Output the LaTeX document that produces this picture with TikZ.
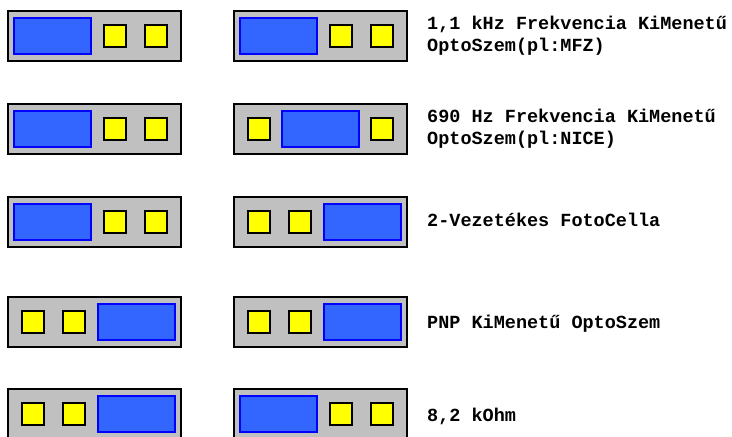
\documentclass[tikz,border=0pt]{standalone}
\usepackage{fontspec}
\setmonofont{Liberation Mono}
\definecolor{housingfill}{HTML}{C0C0C0}
\definecolor{lensfill}{HTML}{3366FF}
\definecolor{lensedge}{HTML}{0000FF}
\definecolor{pinfill}{HTML}{FFFF00}
\begin{document}
\begin{tikzpicture}[x=1pt,y=-1pt,
  housing/.style={draw=black, line width=1.8pt, fill=housingfill},
  lens/.style={draw=lensedge, line width=1.3pt, fill=lensfill},
  pin/.style={draw=black, line width=1.5pt, fill=pinfill},
  label/.style={font=\ttfamily\bfseries\fontsize{18.5}{22}\selectfont, inner sep=0pt, anchor=base west, align=left},
  pics/byy/.style={code={
    \draw[housing] (0,0) rectangle (173,50);
    \draw[lens] (6,7) rectangle (83,43);
    \draw[pin] (96,14) rectangle (118,36);
    \draw[pin] (137,14) rectangle (159,36);
  }},
  pics/yyb/.style={code={
    \draw[housing] (0,0) rectangle (173,50);
    \draw[pin] (14,14) rectangle (36,36);
    \draw[pin] (55,14) rectangle (77,36);
    \draw[lens] (90,7) rectangle (167,43);
  }},
  pics/yby/.style={code={
    \draw[housing] (0,0) rectangle (173,50);
    \draw[pin] (14,14) rectangle (36,36);
    \draw[lens] (48,7) rectangle (125,43);
    \draw[pin] (137,14) rectangle (159,36);
  }}
]
\useasboundingbox (0,0) rectangle (732,437);
\fill[white] (0,0) rectangle (732,437);
% row 1
\pic (r1a) at (8,11) {byy};
\pic (r1b) at (234,11) {byy};
\node[label] (t1) at (427,51) {1,1 kHz Frekvencia KiMenetű\\OptoSzem(pl:MFZ)};
% row 2
\pic (r2a) at (8,104) {byy};
\pic (r2b) at (234,104) {yby};
\node[label] (t2) at (427,144) {690 Hz Frekvencia KiMenetű\\OptoSzem(pl:NICE)};
% row 3
\pic (r3a) at (8,197) {byy};
\pic (r3b) at (234,197) {yyb};
\node[label] (t3) at (427,226) {2-Vezetékes FotoCella};
% row 4
\pic (r4a) at (8,297) {yyb};
\pic (r4b) at (234,297) {yyb};
\node[label] (t4) at (427,328) {PNP KiMenetű OptoSzem};
% row 5
\pic (r5a) at (8,389) {yyb};
\pic (r5b) at (234,389) {byy};
\node[label] (t5) at (427,421) {8,2 kOhm};
\end{tikzpicture}
\end{document}
